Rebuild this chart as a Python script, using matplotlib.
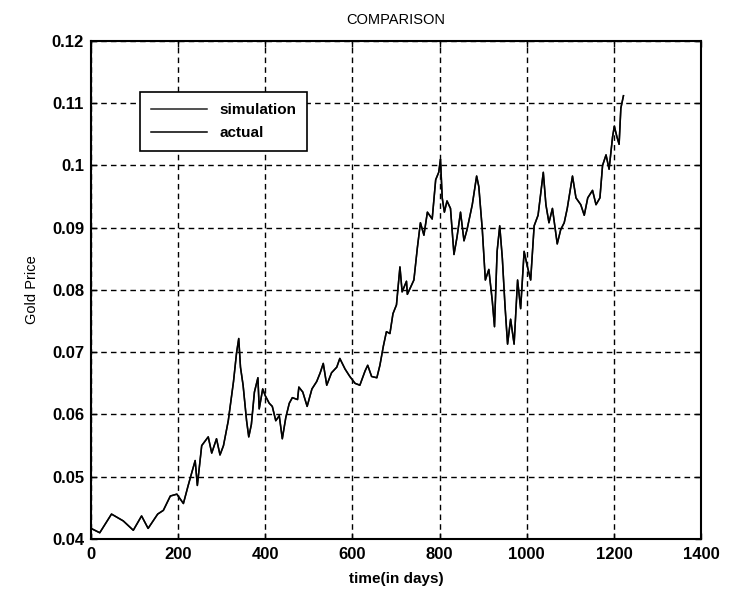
import matplotlib.pyplot as plt

# values (day, gold price)
days = [0, 20, 47, 74, 97, 116, 131, 153, 166, 182, 197, 212, 223, 239, 244, 254,
        269, 277, 288, 296, 304, 315, 327, 334, 339, 343, 349, 357, 362, 368, 375,
        383, 386, 394, 400, 409, 416, 424, 432, 439, 447, 455, 462, 474, 477, 486,
        496, 507, 518, 526, 533, 541, 552, 564, 571, 583, 594, 606, 617, 629, 635,
        644, 656, 663, 671, 678, 686, 693, 701, 709, 714, 724, 726, 741, 749, 756,
        764, 772, 783, 791, 798, 802, 806, 811, 817, 825, 833, 840, 848, 856, 863,
        875, 885, 890, 898, 905, 913, 921, 926, 932, 938, 944, 950, 956, 963, 971,
        979, 986, 994, 1001, 1009, 1017, 1026, 1032, 1038, 1044, 1051, 1059, 1070,
        1078, 1086, 1093, 1105, 1113, 1124, 1132, 1140, 1151, 1159, 1168, 1174,
        1182, 1189, 1197, 1201, 1207, 1212, 1216, 1222]
actual = [0.0417, 0.0410, 0.0440, 0.0429, 0.0414, 0.0437, 0.0417, 0.0440, 0.0446,
          0.0469, 0.0472, 0.0457, 0.0486, 0.0526, 0.0486, 0.0550, 0.0564, 0.0538,
          0.0561, 0.0535, 0.0550, 0.0590, 0.0653, 0.0699, 0.0722, 0.0676, 0.0647,
          0.0590, 0.0564, 0.0584, 0.0636, 0.0659, 0.0609, 0.0641, 0.0630, 0.0618,
          0.0613, 0.0590, 0.0598, 0.0561, 0.0595, 0.0618, 0.0627, 0.0624, 0.0644,
          0.0636, 0.0613, 0.0641, 0.0653, 0.0667, 0.0682, 0.0647, 0.0667, 0.0676,
          0.0690, 0.0673, 0.0661, 0.0650, 0.0647, 0.0670, 0.0679, 0.0661, 0.0659,
          0.0679, 0.0710, 0.0733, 0.0730, 0.0762, 0.0776, 0.0837, 0.0797, 0.0814,
          0.0793, 0.0816, 0.0868, 0.0908, 0.0888, 0.0925, 0.0914, 0.0977, 0.0989,
          0.1010, 0.0948, 0.0925, 0.0943, 0.0931, 0.0857, 0.0885, 0.0925, 0.0879,
          0.0897, 0.0937, 0.0983, 0.0966, 0.0897, 0.0816, 0.0833, 0.0782, 0.0741,
          0.0862, 0.0903, 0.0851, 0.0776, 0.0713, 0.0753, 0.0713, 0.0816, 0.0770,
          0.0862, 0.0839, 0.0816, 0.0903, 0.0920, 0.0954, 0.0989, 0.0937, 0.0908,
          0.0931, 0.0874, 0.0897, 0.0908, 0.0931, 0.0983, 0.0948, 0.0937, 0.0920,
          0.0948, 0.0960, 0.0937, 0.0948, 0.1000, 0.1017, 0.0994, 0.1046, 0.1063,
          0.1046, 0.1034, 0.1092, 0.1112]
simulation = list(actual)  # the two curves sit on top of each other

plt.rcParams['font.family'] = ['Liberation Sans', 'DejaVu Sans']

fig = plt.figure(figsize=(7.3, 5.98), dpi=100)
ax = fig.add_axes([0.1247, 0.0987, 0.8356, 0.8328])

ax.plot(days, simulation, color='#222222', lw=1.1, label='simulation')
ax.plot(days, actual, color='black', lw=1.1, label='actual')

ax.set_xlim(0, 1400)
ax.set_ylim(0.04, 0.12)
ax.set_xticks(range(0, 1401, 200))
ax.set_yticks([0.04, 0.05, 0.06, 0.07, 0.08, 0.09, 0.1, 0.11, 0.12])
ax.set_yticklabels(['0.04', '0.05', '0.06', '0.07', '0.08', '0.09', '0.1', '0.11', '0.12'])

ax.grid(True, color='black', linestyle=(0, (4, 3)), lw=1.0)
ax.tick_params(direction='in', top=True, right=True, length=4, labelsize=12, width=1)
ax.tick_params(axis='x', pad=6)
ax.tick_params(axis='y', pad=5)
for lab in ax.get_xticklabels() + ax.get_yticklabels():
    lab.set_fontweight('bold')
for s in ax.spines.values():
    s.set_linewidth(1.5)

ax.set_title('COMPARISON', fontsize=10.5, pad=12)
ax.set_xlabel('time(in days)', fontsize=11, fontweight='bold', labelpad=7)
ax.set_ylabel('Gold Price', fontsize=10.5, labelpad=9)

leg = ax.legend(loc='upper left', bbox_to_anchor=(0.08, 0.897), fancybox=False,
                edgecolor='black', framealpha=1, fontsize=11, handlelength=3.7,
                borderpad=0.7, labelspacing=0.6, borderaxespad=0)
leg.get_frame().set_linewidth(1.2)
for t in leg.get_texts():
    t.set_fontweight('bold')

fig.savefig('out.png', dpi=100)
